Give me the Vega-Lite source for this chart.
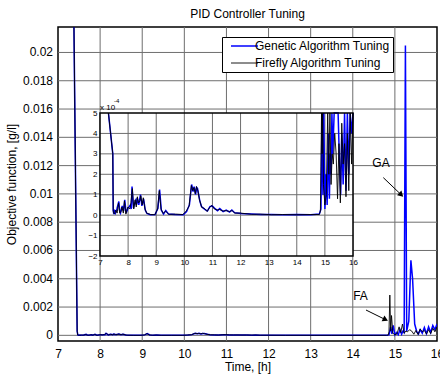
{
  "$schema": "https://vega.github.io/schema/vega-lite/v6.json",
  "width": 379,
  "height": 314,
  "autosize": {"type": "none"},
  "padding": {"left": 58, "top": 27, "right": 3, "bottom": 33},
  "background": "white",
  "title": {"text": "PID Controller Tuning", "fontSize": 12, "fontWeight": "normal", "font": "Liberation Sans", "color": "black", "offset": 6},
  "config": {
    "font": "Liberation Sans",
    "view": {"stroke": "black", "strokeWidth": 1.5},
    "axis": {"labelFont": "Liberation Sans", "titleFont": "Liberation Sans", "labelColor": "black", "titleColor": "black", "titleFontWeight": "normal", "grid": false, "domain": false, "ticks": false, "tickSize": 0, "labelFlush": false, "labelOverlap": false}
  },
  "datasets": {
    "series": [
      {"series":"Genetic Algorithm Tuning","t":7.30,"y":440},{"series":"Genetic Algorithm Tuning","t":7.455,"y":3},{"series":"Genetic Algorithm Tuning","t":7.47,"y":0.25},{"series":"Genetic Algorithm Tuning","t":7.49,"y":0.05},{"series":"Genetic Algorithm Tuning","t":7.52,"y":0.2},{"series":"Genetic Algorithm Tuning","t":7.55,"y":0.1},{"series":"Genetic Algorithm Tuning","t":7.60,"y":0.3},{"series":"Genetic Algorithm Tuning","t":7.67,"y":0.67},{"series":"Genetic Algorithm Tuning","t":7.70,"y":0.2},{"series":"Genetic Algorithm Tuning","t":7.73,"y":0.1},{"series":"Genetic Algorithm Tuning","t":7.79,"y":0.45},{"series":"Genetic Algorithm Tuning","t":7.84,"y":0.2},{"series":"Genetic Algorithm Tuning","t":7.88,"y":0.75},{"series":"Genetic Algorithm Tuning","t":7.93,"y":0.1},{"series":"Genetic Algorithm Tuning","t":8.00,"y":0.35},{"series":"Genetic Algorithm Tuning","t":8.08,"y":0.5},{"series":"Genetic Algorithm Tuning","t":8.11,"y":0.3},{"series":"Genetic Algorithm Tuning","t":8.14,"y":1.4},{"series":"Genetic Algorithm Tuning","t":8.19,"y":0.35},{"series":"Genetic Algorithm Tuning","t":8.26,"y":0.7},{"series":"Genetic Algorithm Tuning","t":8.30,"y":0.5},{"series":"Genetic Algorithm Tuning","t":8.32,"y":0.85},{"series":"Genetic Algorithm Tuning","t":8.38,"y":0.5},{"series":"Genetic Algorithm Tuning","t":8.44,"y":1.0},{"series":"Genetic Algorithm Tuning","t":8.49,"y":0.45},{"series":"Genetic Algorithm Tuning","t":8.55,"y":0.8},{"series":"Genetic Algorithm Tuning","t":8.61,"y":0.25},{"series":"Genetic Algorithm Tuning","t":8.67,"y":0.08},{"series":"Genetic Algorithm Tuning","t":8.79,"y":0.02},{"series":"Genetic Algorithm Tuning","t":8.96,"y":0.03},{"series":"Genetic Algorithm Tuning","t":9.06,"y":0.33},{"series":"Genetic Algorithm Tuning","t":9.12,"y":1.25},{"series":"Genetic Algorithm Tuning","t":9.18,"y":0.25},{"series":"Genetic Algorithm Tuning","t":9.26,"y":0.05},{"series":"Genetic Algorithm Tuning","t":9.34,"y":0.22},{"series":"Genetic Algorithm Tuning","t":9.44,"y":0.05},{"series":"Genetic Algorithm Tuning","t":9.67,"y":0.03},{"series":"Genetic Algorithm Tuning","t":9.96,"y":0.02},{"series":"Genetic Algorithm Tuning","t":10.08,"y":0.17},{"series":"Genetic Algorithm Tuning","t":10.18,"y":0.5},{"series":"Genetic Algorithm Tuning","t":10.26,"y":1.5},{"series":"Genetic Algorithm Tuning","t":10.31,"y":1.15},{"series":"Genetic Algorithm Tuning","t":10.35,"y":1.4},{"series":"Genetic Algorithm Tuning","t":10.40,"y":1.0},{"series":"Genetic Algorithm Tuning","t":10.44,"y":1.35},{"series":"Genetic Algorithm Tuning","t":10.47,"y":1.3},{"series":"Genetic Algorithm Tuning","t":10.55,"y":0.7},{"series":"Genetic Algorithm Tuning","t":10.61,"y":0.42},{"series":"Genetic Algorithm Tuning","t":10.73,"y":0.28},{"series":"Genetic Algorithm Tuning","t":10.82,"y":0.2},{"series":"Genetic Algorithm Tuning","t":10.91,"y":0.42},{"series":"Genetic Algorithm Tuning","t":10.99,"y":0.45},{"series":"Genetic Algorithm Tuning","t":11.08,"y":0.33},{"series":"Genetic Algorithm Tuning","t":11.18,"y":0.22},{"series":"Genetic Algorithm Tuning","t":11.26,"y":0.32},{"series":"Genetic Algorithm Tuning","t":11.38,"y":0.17},{"series":"Genetic Algorithm Tuning","t":11.49,"y":0.25},{"series":"Genetic Algorithm Tuning","t":11.61,"y":0.15},{"series":"Genetic Algorithm Tuning","t":11.69,"y":0.25},{"series":"Genetic Algorithm Tuning","t":11.79,"y":0.12},{"series":"Genetic Algorithm Tuning","t":12.02,"y":0.08},{"series":"Genetic Algorithm Tuning","t":12.38,"y":0.05},{"series":"Genetic Algorithm Tuning","t":12.73,"y":0.03},{"series":"Genetic Algorithm Tuning","t":13.10,"y":0.03},{"series":"Genetic Algorithm Tuning","t":13.50,"y":0.02},{"series":"Genetic Algorithm Tuning","t":14.00,"y":0.03},{"series":"Genetic Algorithm Tuning","t":14.50,"y":0.02},{"series":"Genetic Algorithm Tuning","t":14.80,"y":0.05},{"series":"Genetic Algorithm Tuning","t":14.86,"y":0.3},{"series":"Genetic Algorithm Tuning","t":14.90,"y":6},{"series":"Genetic Algorithm Tuning","t":14.93,"y":1.0},{"series":"Genetic Algorithm Tuning","t":14.96,"y":7},{"series":"Genetic Algorithm Tuning","t":15.00,"y":0.3},{"series":"Genetic Algorithm Tuning","t":15.04,"y":2.0},{"series":"Genetic Algorithm Tuning","t":15.08,"y":0.5},{"series":"Genetic Algorithm Tuning","t":15.12,"y":4.0},{"series":"Genetic Algorithm Tuning","t":15.16,"y":0.8},{"series":"Genetic Algorithm Tuning","t":15.19,"y":3},{"series":"Genetic Algorithm Tuning","t":15.22,"y":2},{"series":"Genetic Algorithm Tuning","t":15.25,"y":205},{"series":"Genetic Algorithm Tuning","t":15.28,"y":3},{"series":"Genetic Algorithm Tuning","t":15.33,"y":10},{"series":"Genetic Algorithm Tuning","t":15.38,"y":53},{"series":"Genetic Algorithm Tuning","t":15.42,"y":40},{"series":"Genetic Algorithm Tuning","t":15.47,"y":8},{"series":"Genetic Algorithm Tuning","t":15.52,"y":2.5},{"series":"Genetic Algorithm Tuning","t":15.56,"y":1.0},{"series":"Genetic Algorithm Tuning","t":15.60,"y":4},{"series":"Genetic Algorithm Tuning","t":15.65,"y":1.5},{"series":"Genetic Algorithm Tuning","t":15.70,"y":5.5},{"series":"Genetic Algorithm Tuning","t":15.75,"y":1.2},{"series":"Genetic Algorithm Tuning","t":15.80,"y":6},{"series":"Genetic Algorithm Tuning","t":15.85,"y":2},{"series":"Genetic Algorithm Tuning","t":15.90,"y":7},{"series":"Genetic Algorithm Tuning","t":15.95,"y":4},{"series":"Genetic Algorithm Tuning","t":16.00,"y":8},
      {"series":"Firefly Algorithm Tuning","t":7.30,"y":440},{"series":"Firefly Algorithm Tuning","t":7.455,"y":3},{"series":"Firefly Algorithm Tuning","t":7.47,"y":0.2},{"series":"Firefly Algorithm Tuning","t":7.49,"y":0.1},{"series":"Firefly Algorithm Tuning","t":7.52,"y":0.05},{"series":"Firefly Algorithm Tuning","t":7.56,"y":0.25},{"series":"Firefly Algorithm Tuning","t":7.61,"y":0.1},{"series":"Firefly Algorithm Tuning","t":7.66,"y":0.6},{"series":"Firefly Algorithm Tuning","t":7.70,"y":0.1},{"series":"Firefly Algorithm Tuning","t":7.74,"y":0.15},{"series":"Firefly Algorithm Tuning","t":7.78,"y":0.4},{"series":"Firefly Algorithm Tuning","t":7.83,"y":0.1},{"series":"Firefly Algorithm Tuning","t":7.87,"y":0.7},{"series":"Firefly Algorithm Tuning","t":7.92,"y":0.05},{"series":"Firefly Algorithm Tuning","t":7.99,"y":0.4},{"series":"Firefly Algorithm Tuning","t":8.06,"y":0.3},{"series":"Firefly Algorithm Tuning","t":8.10,"y":0.6},{"series":"Firefly Algorithm Tuning","t":8.15,"y":1.3},{"series":"Firefly Algorithm Tuning","t":8.20,"y":0.3},{"series":"Firefly Algorithm Tuning","t":8.25,"y":0.75},{"series":"Firefly Algorithm Tuning","t":8.29,"y":0.4},{"series":"Firefly Algorithm Tuning","t":8.33,"y":0.9},{"series":"Firefly Algorithm Tuning","t":8.37,"y":0.6},{"series":"Firefly Algorithm Tuning","t":8.42,"y":0.7},{"series":"Firefly Algorithm Tuning","t":8.45,"y":0.95},{"series":"Firefly Algorithm Tuning","t":8.50,"y":0.5},{"series":"Firefly Algorithm Tuning","t":8.54,"y":0.85},{"series":"Firefly Algorithm Tuning","t":8.60,"y":0.3},{"series":"Firefly Algorithm Tuning","t":8.66,"y":0.1},{"series":"Firefly Algorithm Tuning","t":8.80,"y":0.03},{"series":"Firefly Algorithm Tuning","t":8.95,"y":0.02},{"series":"Firefly Algorithm Tuning","t":9.05,"y":0.3},{"series":"Firefly Algorithm Tuning","t":9.11,"y":1.2},{"series":"Firefly Algorithm Tuning","t":9.17,"y":0.3},{"series":"Firefly Algorithm Tuning","t":9.25,"y":0.08},{"series":"Firefly Algorithm Tuning","t":9.33,"y":0.2},{"series":"Firefly Algorithm Tuning","t":9.45,"y":0.04},{"series":"Firefly Algorithm Tuning","t":9.70,"y":0.05},{"series":"Firefly Algorithm Tuning","t":9.95,"y":0.03},{"series":"Firefly Algorithm Tuning","t":10.07,"y":0.2},{"series":"Firefly Algorithm Tuning","t":10.17,"y":0.45},{"series":"Firefly Algorithm Tuning","t":10.25,"y":1.45},{"series":"Firefly Algorithm Tuning","t":10.30,"y":1.2},{"series":"Firefly Algorithm Tuning","t":10.34,"y":1.35},{"series":"Firefly Algorithm Tuning","t":10.39,"y":1.05},{"series":"Firefly Algorithm Tuning","t":10.43,"y":1.4},{"series":"Firefly Algorithm Tuning","t":10.48,"y":1.2},{"series":"Firefly Algorithm Tuning","t":10.54,"y":0.75},{"series":"Firefly Algorithm Tuning","t":10.62,"y":0.38},{"series":"Firefly Algorithm Tuning","t":10.72,"y":0.32},{"series":"Firefly Algorithm Tuning","t":10.81,"y":0.18},{"series":"Firefly Algorithm Tuning","t":10.90,"y":0.38},{"series":"Firefly Algorithm Tuning","t":10.98,"y":0.48},{"series":"Firefly Algorithm Tuning","t":11.07,"y":0.3},{"series":"Firefly Algorithm Tuning","t":11.17,"y":0.25},{"series":"Firefly Algorithm Tuning","t":11.25,"y":0.28},{"series":"Firefly Algorithm Tuning","t":11.37,"y":0.2},{"series":"Firefly Algorithm Tuning","t":11.48,"y":0.22},{"series":"Firefly Algorithm Tuning","t":11.60,"y":0.18},{"series":"Firefly Algorithm Tuning","t":11.70,"y":0.22},{"series":"Firefly Algorithm Tuning","t":11.80,"y":0.1},{"series":"Firefly Algorithm Tuning","t":12.00,"y":0.1},{"series":"Firefly Algorithm Tuning","t":12.40,"y":0.04},{"series":"Firefly Algorithm Tuning","t":12.70,"y":0.05},{"series":"Firefly Algorithm Tuning","t":13.10,"y":0.02},{"series":"Firefly Algorithm Tuning","t":13.50,"y":0.03},{"series":"Firefly Algorithm Tuning","t":14.00,"y":0.02},{"series":"Firefly Algorithm Tuning","t":14.50,"y":0.03},{"series":"Firefly Algorithm Tuning","t":14.80,"y":0.03},{"series":"Firefly Algorithm Tuning","t":14.84,"y":0.2},{"series":"Firefly Algorithm Tuning","t":14.86,"y":2.4},{"series":"Firefly Algorithm Tuning","t":14.88,"y":28.5},{"series":"Firefly Algorithm Tuning","t":14.90,"y":3},{"series":"Firefly Algorithm Tuning","t":14.92,"y":14},{"series":"Firefly Algorithm Tuning","t":14.95,"y":1.5},{"series":"Firefly Algorithm Tuning","t":15.00,"y":0.5},{"series":"Firefly Algorithm Tuning","t":15.05,"y":1.0},{"series":"Firefly Algorithm Tuning","t":15.10,"y":6},{"series":"Firefly Algorithm Tuning","t":15.14,"y":2},{"series":"Firefly Algorithm Tuning","t":15.18,"y":8},{"series":"Firefly Algorithm Tuning","t":15.22,"y":1.5},{"series":"Firefly Algorithm Tuning","t":15.26,"y":3},{"series":"Firefly Algorithm Tuning","t":15.30,"y":2.5},{"series":"Firefly Algorithm Tuning","t":15.35,"y":4},{"series":"Firefly Algorithm Tuning","t":15.40,"y":3},{"series":"Firefly Algorithm Tuning","t":15.45,"y":0.8},{"series":"Firefly Algorithm Tuning","t":15.50,"y":3.5},{"series":"Firefly Algorithm Tuning","t":15.55,"y":0.6},{"series":"Firefly Algorithm Tuning","t":15.60,"y":4.5},{"series":"Firefly Algorithm Tuning","t":15.65,"y":2.5},{"series":"Firefly Algorithm Tuning","t":15.70,"y":3.5},{"series":"Firefly Algorithm Tuning","t":15.75,"y":0.9},{"series":"Firefly Algorithm Tuning","t":15.80,"y":4},{"series":"Firefly Algorithm Tuning","t":15.85,"y":1.2},{"series":"Firefly Algorithm Tuning","t":15.90,"y":5},{"series":"Firefly Algorithm Tuning","t":15.95,"y":2.5},{"series":"Firefly Algorithm Tuning","t":16.00,"y":6}
    ],
    "labels": [
      {"label": "GA", "t": 14.67, "y": 122.2},
      {"label": "FA", "t": 14.183, "y": 27.8}
    ],
    "arrows": [
      {"name": "GA", "t": 14.725, "y": 111.5, "t2": 15.15, "y2": 99.4},
      {"name": "FA", "t": 14.314, "y": 17.9, "t2": 14.777, "y2": 11.1}
    ],
    "mainXTicks": [{"t":8},{"t":9},{"t":10},{"t":11},{"t":12},{"t":13},{"t":14},{"t":15}],
    "mainYTicks": [{"y":0,"label":"0"},{"y":20,"label":"0.002"},{"y":40,"label":"0.004"},{"y":60,"label":"0.006"},{"y":80,"label":"0.008"},{"y":100,"label":"0.01"},{"y":120,"label":"0.012"},{"y":140,"label":"0.014"},{"y":160,"label":"0.016"},{"y":180,"label":"0.018"},{"y":200,"label":"0.02"}],
    "insetXTicks": [{"t":8},{"t":9},{"t":10},{"t":11},{"t":12},{"t":13},{"t":14},{"t":15}],
    "insetYTicks": [{"y":-1},{"y":0},{"y":1},{"y":2},{"y":3},{"y":4}]
  },
  "layer": [
    {
      "layer": [
        {
          "data": {"name": "mainXTicks"},
          "mark": {"type": "rule", "color": "#6e6e6e", "strokeWidth": 1},
          "encoding": {
            "x": {"field": "t", "type": "quantitative", "scale": {"domain": [7, 16], "nice": false, "zero": false},
                  "axis": {"values": [7,8,9,10,11,12,13,14,15,16], "labelOverlap": false, "labelFontSize": 12, "labelPadding": 7, "title": "Time, [h]", "titleFontSize": 12, "titlePadding": 2}}
          }
        },
        {
          "data": {"name": "mainYTicks"},
          "mark": {"type": "rule", "color": "#6e6e6e", "strokeWidth": 1},
          "encoding": {
            "y": {"field": "y", "type": "quantitative", "scale": {"domain": [-4, 218], "nice": false, "zero": false},
                  "axis": {"values": [0,100,200], "labels": false, "title": "Objective function, [g/l]", "titleFontSize": 12, "titlePadding": 40}}
          }
        },
        {
          "data": {"name": "mainYTicks"},
          "mark": {"type": "text", "fontSize": 12, "font": "Liberation Sans", "color": "black", "align": "right", "baseline": "middle", "dx": -5},
          "encoding": {
            "y": {"field": "y", "type": "quantitative"},
            "x": {"datum": 7, "type": "quantitative"},
            "text": {"field": "label"}
          }
        },
        {
          "data": {"name": "series"},
          "mark": {"type": "line", "clip": true},
          "encoding": {
            "x": {"field": "t", "type": "quantitative"},
            "y": {"field": "y", "type": "quantitative"},
            "color": {"field": "series", "type": "nominal",
                      "scale": {"domain": ["Genetic Algorithm Tuning", "Firefly Algorithm Tuning"], "range": ["#0000ff", "#000000"]},
                      "legend": {"orient": "none", "legendX": 164, "legendY": 10, "title": null, "symbolType": "M0,0H27", "symbolSize": 4, "symbolStrokeWidth": 1, "labelFontSize": 12, "labelFont": "Liberation Sans", "labelColor": "black", "labelOffset": 18, "fillColor": "white", "strokeColor": "black", "padding": 3, "rowPadding": 5, "labelLimit": 300}},
            "strokeWidth": {"field": "series", "type": "nominal",
                      "scale": {"domain": ["Genetic Algorithm Tuning", "Firefly Algorithm Tuning"], "range": [1.5, 0.9]}, "legend": null}
          }
        },
        {
          "data": {"name": "arrows"},
          "mark": {"type": "rule", "color": "black", "strokeWidth": 1},
          "encoding": {
            "x": {"field": "t", "type": "quantitative"},
            "y": {"field": "y", "type": "quantitative"},
            "x2": {"field": "t2"},
            "y2": {"field": "y2"}
          }
        },
        {
          "data": {"name": "arrows"},
          "transform": [{"filter": "datum.name == 'GA'"}],
          "mark": {"type": "point", "shape": "triangle-right", "filled": true, "color": "black", "size": 40, "angle": 43.5, "opacity": 1},
          "encoding": {
            "x": {"field": "t2", "type": "quantitative"},
            "y": {"field": "y2", "type": "quantitative"}
          }
        },
        {
          "data": {"name": "arrows"},
          "transform": [{"filter": "datum.name == 'FA'"}],
          "mark": {"type": "point", "shape": "triangle-right", "filled": true, "color": "black", "size": 40, "angle": 26, "opacity": 1},
          "encoding": {
            "x": {"field": "t2", "type": "quantitative"},
            "y": {"field": "y2", "type": "quantitative"}
          }
        },
        {
          "data": {"name": "labels"},
          "mark": {"type": "text", "fontSize": 12, "font": "Liberation Sans", "color": "black", "align": "center", "baseline": "middle"},
          "encoding": {
            "x": {"field": "t", "type": "quantitative"},
            "y": {"field": "y", "type": "quantitative"},
            "text": {"field": "label"}
          }
        }
      ]
    },
    {
      "layer": [
        {
          "data": {"values": [{}]},
          "mark": {"type": "rect", "fill": "white", "fillOpacity": 1},
          "encoding": {
            "x": {"datum": 7, "type": "quantitative", "scale": {"domain": [7, 16], "range": [42, 295], "nice": false, "zero": false},
                  "axis": {"orient": "bottom", "offset": -85, "values": [7,8,9,10,11,12,13,14,15,16], "labelOverlap": false, "labelFontSize": 8, "labelPadding": 2, "title": null, "zindex": 1}},
            "x2": {"datum": 16},
            "y": {"datum": -2, "type": "quantitative", "scale": {"domain": [-2, 5], "range": [229, 86], "nice": false, "zero": false, "clamp": true},
                  "axis": {"orient": "left", "offset": -42, "values": [-2,-1,0,1,2,3,4,5], "labelOverlap": false, "labelFontSize": 8, "labelPadding": 3, "title": null, "zindex": 1}},
            "y2": {"datum": 5}
          }
        },
        {
          "data": {"name": "insetXTicks"},
          "mark": {"type": "rule", "color": "#6e6e6e", "strokeWidth": 1},
          "encoding": {
            "x": {"field": "t", "type": "quantitative"},
            "y": {"datum": -2, "type": "quantitative"},
            "y2": {"datum": 5}
          }
        },
        {
          "data": {"name": "insetYTicks"},
          "mark": {"type": "rule", "color": "#6e6e6e", "strokeWidth": 1},
          "encoding": {
            "y": {"field": "y", "type": "quantitative"},
            "x": {"datum": 7, "type": "quantitative"},
            "x2": {"datum": 16}
          }
        },
        {
          "data": {"name": "series"},
          "mark": {"type": "line"},
          "encoding": {
            "x": {"field": "t", "type": "quantitative"},
            "y": {"field": "y", "type": "quantitative"},
            "color": {"field": "series", "type": "nominal", "legend": null},
            "strokeWidth": {"field": "series", "type": "nominal", "legend": null}
          }
        },
        {
          "data": {"values": [{}]},
          "mark": {"type": "rect", "fillOpacity": 0, "stroke": "black", "strokeWidth": 1.5},
          "encoding": {
            "x": {"datum": 7, "type": "quantitative"}, "x2": {"datum": 16},
            "y": {"datum": -2, "type": "quantitative"}, "y2": {"datum": 5}
          }
        },
        {
          "data": {"values": [{}]},
          "mark": {"type": "text", "text": "x 10", "fontSize": 8, "font": "Liberation Sans", "color": "black", "align": "left", "baseline": "alphabetic", "dy": -3},
          "encoding": {
            "x": {"datum": 7, "type": "quantitative"},
            "y": {"datum": 5, "type": "quantitative"}
          }
        },
        {
          "data": {"values": [{}]},
          "mark": {"type": "text", "text": "-4", "fontSize": 6, "font": "Liberation Sans", "color": "black", "align": "left", "baseline": "alphabetic", "dx": 14, "dy": -10},
          "encoding": {
            "x": {"datum": 7, "type": "quantitative"},
            "y": {"datum": 5, "type": "quantitative"}
          }
        }
      ]
    }
  ],
  "resolve": {"scale": {"x": "independent", "y": "independent"}, "axis": {"x": "independent", "y": "independent"}}
}
